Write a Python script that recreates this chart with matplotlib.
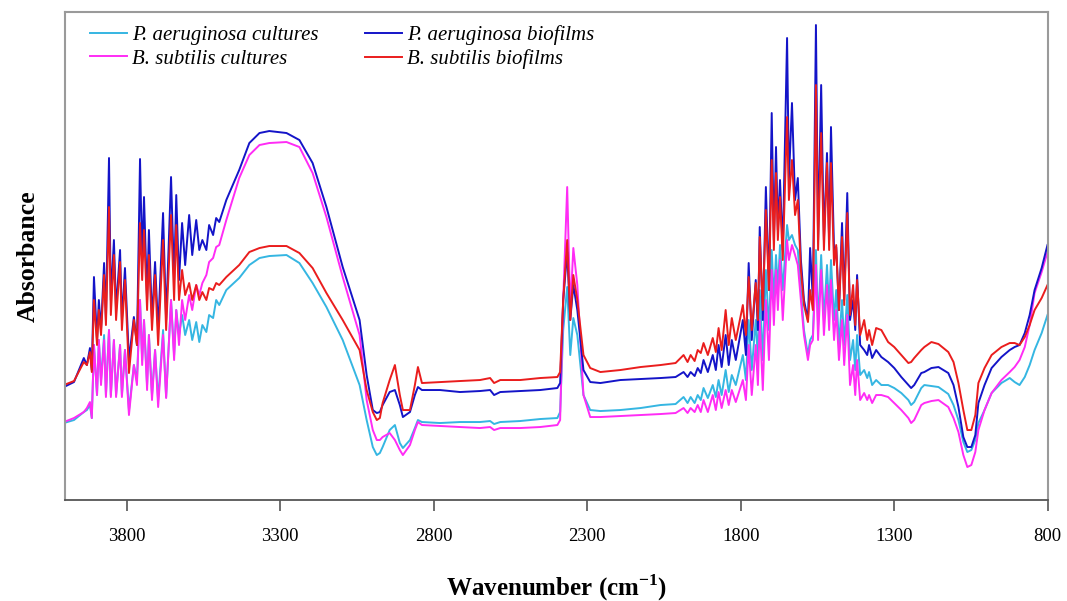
import matplotlib
matplotlib.use("Agg")
import matplotlib.pyplot as plt
from matplotlib.ticker import FixedLocator

# FTIR spectra: wavenumber (cm-1) and absorbance (a.u.) of the four samples
wavenumber = [
    4004, 3971, 3939, 3929, 3919, 3913, 3906, 3896, 3890, 3883,
    3873, 3867, 3857, 3851, 3841, 3834, 3821, 3815, 3805, 3792,
    3776, 3766, 3756, 3749, 3743, 3733, 3727, 3717, 3707, 3697,
    3681, 3671, 3655, 3645, 3638, 3629, 3619, 3609, 3596, 3586,
    3573, 3563, 3553, 3540, 3531, 3518, 3508, 3498, 3475, 3433,
    3400, 3367, 3335, 3279, 3237, 3194, 3149, 3096, 3041, 3018,
    2998, 2985, 2975, 2966, 2943, 2926, 2910, 2900, 2877, 2861,
    2851, 2838, 2779, 2714, 2649, 2616, 2603, 2583, 2518, 2453,
    2397, 2388, 2378, 2365, 2355, 2345, 2332, 2312, 2290, 2257,
    2192, 2126, 2061, 2012, 1986, 1973, 1963, 1950, 1940, 1930,
    1921, 1907, 1891, 1881, 1872, 1862, 1849, 1839, 1829, 1816,
    1793, 1783, 1774, 1764, 1751, 1744, 1738, 1728, 1718, 1708,
    1699, 1692, 1685, 1679, 1672, 1663, 1649, 1643, 1633, 1623,
    1614, 1604, 1594, 1581, 1574, 1565, 1555, 1548, 1538, 1529,
    1519, 1512, 1506, 1496, 1489, 1480, 1470, 1463, 1453, 1444,
    1434, 1427, 1421, 1411, 1398, 1388, 1382, 1372, 1359, 1342,
    1320, 1300, 1277, 1254, 1245, 1235, 1212, 1202, 1179, 1156,
    1124, 1107, 1091, 1075, 1062, 1049, 1036, 1026, 1006, 983,
    951, 924, 908, 892, 875, 859, 843, 820, 801,
]

pa_cultures = [
    .077, .080, .088, .090, .095, .082, .155, .105, .160, .120,
    .165, .105, .170, .105, .160, .105, .155, .105, .150, .090,
    .135, .120, .200, .140, .180, .115, .165, .105, .150, .100,
    .170, .103, .200, .145, .190, .165, .185, .165, .180, .160,
    .178, .158, .175, .168, .185, .182, .200, .195, .210, .222,
    .235, .242, .244, .245, .237, .217, .193, .160, .115, .080,
    .053, .045, .047, .053, .070, .075, .057, .052, .060, .072,
    .080, .078, .077, .078, .078, .079, .076, .078, .079, .081,
    .082, .088, .170, .213, .145, .182, .165, .105, .090, .089,
    .090, .092, .095, .096, .103, .097, .103, .097, .105, .100,
    .112, .102, .115, .103, .120, .105, .130, .108, .125, .115,
    .145, .120, .180, .130, .180, .140, .210, .140, .230, .170,
    .250, .200, .245, .210, .255, .210, .275, .260, .265, .255,
    .250, .210, .170, .145, .160, .165, .250, .175, .245, .180,
    .235, .190, .240, .180, .210, .155, .200, .155, .205, .140,
    .160, .130, .165, .125, .130, .122, .128, .115, .120, .115,
    .115, .112, .107, .100, .095, .098, .112, .115, .114, .113,
    .106, .095, .080, .058, .048, .050, .060, .077, .090, .107,
    .117, .122, .118, .115, .123, .135, .150, .167, .185,
]

pa_biofilms = [
    .113, .118, .142, .135, .152, .130, .223, .160, .200, .170,
    .237, .180, .342, .200, .260, .190, .250, .180, .232, .140,
    .183, .155, .341, .240, .303, .200, .270, .180, .238, .170,
    .287, .180, .323, .220, .305, .220, .277, .235, .285, .245,
    .280, .250, .260, .250, .275, .265, .282, .278, .300, .330,
    .357, .367, .369, .367, .360, .337, .293, .233, .180, .125,
    .090, .087, .088, .095, .108, .110, .095, .083, .088, .105,
    .113, .110, .110, .108, .109, .110, .105, .108, .109, .110,
    .112, .117, .200, .248, .180, .215, .190, .130, .118, .117,
    .120, .121, .122, .123, .128, .123, .128, .124, .132, .127,
    .140, .128, .145, .130, .155, .133, .165, .135, .160, .140,
    .180, .145, .237, .160, .220, .170, .273, .180, .313, .210,
    .387, .260, .353, .270, .320, .250, .462, .320, .397, .300,
    .322, .240, .200, .180, .252, .200, .475, .260, .415, .260,
    .347, .260, .373, .250, .253, .190, .277, .200, .307, .180,
    .200, .170, .225, .155, .150, .145, .155, .142, .150, .143,
    .138, .132, .123, .115, .112, .115, .127, .128, .132, .133,
    .127, .115, .093, .063, .053, .053, .065, .097, .115, .132,
    .143, .150, .153, .155, .167, .185, .210, .232, .255,
]

bs_cultures = [
    .078, .082, .088, .092, .098, .082, .155, .105, .160, .115,
    .160, .103, .170, .103, .160, .103, .155, .103, .150, .085,
    .135, .115, .200, .135, .180, .110, .165, .100, .150, .093,
    .165, .102, .200, .140, .190, .155, .200, .180, .205, .190,
    .215, .205, .217, .225, .238, .242, .253, .255, .280, .322,
    .345, .355, .357, .358, .353, .327, .283, .223, .165, .100,
    .070, .060, .060, .063, .067, .060, .050, .045, .055, .070,
    .078, .075, .074, .073, .072, .073, .070, .072, .072, .073,
    .075, .080, .200, .313, .190, .252, .215, .105, .083, .083,
    .084, .085, .086, .087, .092, .087, .092, .088, .095, .088,
    .100, .088, .105, .090, .108, .092, .110, .095, .110, .098,
    .120, .100, .155, .105, .155, .115, .180, .110, .200, .140,
    .230, .175, .230, .190, .240, .180, .260, .240, .255, .245,
    .235, .200, .165, .140, .155, .160, .235, .160, .230, .165,
    .215, .170, .220, .160, .190, .140, .180, .135, .185, .115,
    .135, .105, .140, .100, .107, .100, .105, .097, .105, .105,
    .103, .097, .090, .082, .077, .080, .095, .097, .099, .100,
    .093, .082, .068, .045, .033, .035, .048, .070, .090, .107,
    .120, .128, .133, .140, .153, .175, .207, .228, .248,
]

bs_biofilms = [
    .115, .119, .138, .135, .148, .128, .200, .155, .190, .165,
    .225, .175, .293, .185, .245, .180, .238, .170, .220, .127,
    .180, .155, .277, .220, .270, .190, .245, .170, .225, .155,
    .260, .170, .285, .200, .275, .200, .230, .205, .217, .200,
    .215, .200, .208, .200, .212, .210, .217, .215, .223, .235,
    .248, .252, .254, .254, .247, .232, .207, .180, .150, .110,
    .088, .080, .082, .097, .120, .135, .105, .090, .090, .115,
    .133, .117, .118, .119, .120, .122, .117, .120, .120, .122,
    .123, .128, .200, .260, .180, .225, .200, .145, .132, .128,
    .130, .133, .135, .137, .145, .138, .145, .139, .150, .147,
    .157, .145, .162, .148, .172, .150, .190, .155, .182, .160,
    .195, .165, .223, .170, .217, .180, .263, .190, .290, .210,
    .340, .250, .327, .260, .303, .240, .383, .300, .340, .285,
    .300, .230, .195, .178, .210, .190, .415, .250, .367, .250,
    .337, .250, .337, .235, .255, .190, .263, .195, .287, .185,
    .215, .175, .220, .165, .180, .160, .170, .155, .172, .170,
    .158, .153, .145, .137, .138, .142, .150, .153, .158, .156,
    .148, .138, .117, .090, .070, .070, .085, .117, .132, .145,
    .153, .157, .157, .155, .163, .175, .190, .202, .215,
]

series = [
    ("P. aeruginosa cultures", pa_cultures, "#35b6e2"),
    ("B. subtilis cultures", bs_cultures, "#ff2cf5"),
    ("P. aeruginosa biofilms", pa_biofilms, "#1414c8"),
    ("B. subtilis biofilms", bs_biofilms, "#ea1d1d"),
]

x_ticks = [3800, 3300, 2800, 2300, 1800, 1300, 800]

plt.rcParams["font.family"] = ["Liberation Serif", "DejaVu Serif"]

fig = plt.figure(figsize=(10.67, 6.01), dpi=100)
ax = fig.add_axes([0.061, 0.168, 0.921, 0.812])

for label, values, color in series:
    ax.plot(wavenumber, values, color=color, lw=1.4, label=label)

ax.set_xlim(4000, 800)
ax.set_ylim(0, 0.488)
ax.xaxis.set_major_locator(FixedLocator(x_ticks))
ax.set_xticklabels([str(t) for t in x_ticks])
ax.set_yticks([])

for side in ("left", "right", "top"):
    ax.spines[side].set_color("#9a9a9a")
    ax.spines[side].set_linewidth(1.5)
ax.spines["bottom"].set_color("#555555")
ax.spines["bottom"].set_linewidth(1.3)

ax.tick_params(axis="x", direction="out", length=8, width=1.2,
               color="#555555", labelsize=13.5, pad=12)

ax.set_xlabel("Wavenumber (cm$^{\\mathregular{-1}}$)", fontsize=18,
              fontweight="bold", labelpad=20)
ax.set_ylabel("Absorbance", fontsize=18.5, fontweight="bold", labelpad=18)

ax.legend(loc="upper left", bbox_to_anchor=(0.006, 1.012), ncol=2,
          frameon=False, prop={"style": "italic", "size": 15},
          handlelength=1.8, handletextpad=0.25, columnspacing=2.2,
          labelspacing=0.2)

fig.savefig("out.png", dpi=100, facecolor="white")
